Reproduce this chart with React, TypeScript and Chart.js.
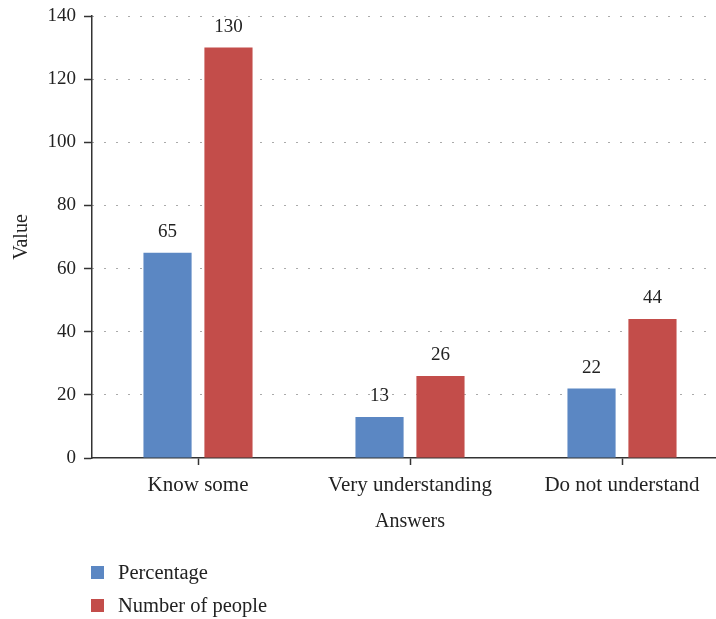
import React, { useEffect, useRef } from "react";
import { Chart, registerables } from "chart.js";

Chart.register(...registerables);

const categories = ["Know some", "Very understanding", "Do not understand"];
const percentage = [65, 13, 22];
const numberOfPeople = [130, 26, 44];
const seriesNames = ["Percentage", "Number of people"];
const seriesColors = ["#5b87c3", "#c34d4a"];
const yTicks = [0, 20, 40, 60, 80, 100, 120, 140];

const FONT = "'Liberation Serif', 'Times New Roman', serif";
const AXIS_COLOR = "#333333";

const valueLabels = {
  id: "valueLabels",
  afterDatasetsDraw(chart: any) {
    const ctx = chart.ctx;
    ctx.save();
    ctx.font = `19px ${FONT}`;
    ctx.fillStyle = "#222222";
    ctx.textAlign = "center";
    ctx.textBaseline = "alphabetic";
    chart.data.datasets.forEach((ds: any, i: number) => {
      const meta = chart.getDatasetMeta(i);
      meta.data.forEach((bar: any, j: number) => {
        ctx.fillText(String(ds.data[j]), bar.x, bar.y - 16);
      });
    });
    ctx.restore();
  },
};

export default function App() {
  const canvasRef = useRef<HTMLCanvasElement>(null);

  useEffect(() => {
    const canvas = canvasRef.current;
    if (!canvas) return;
    const chart = new Chart(canvas, {
      type: "bar",
      data: {
        labels: categories,
        datasets: [
          {
            label: seriesNames[0],
            data: percentage,
            backgroundColor: seriesColors[0],
            categoryPercentage: 0.575,
            barPercentage: 0.79,
          },
          {
            label: seriesNames[1],
            data: numberOfPeople,
            backgroundColor: seriesColors[1],
            categoryPercentage: 0.575,
            barPercentage: 0.79,
          },
        ],
      },
      options: {
        responsive: false,
        animation: false,
        layout: { padding: { top: 16, right: 0, bottom: 74, left: 0 } },
        plugins: {
          legend: { display: false },
          tooltip: { enabled: false },
        },
        scales: {
          x: {
            grid: {
              offset: false,
              drawOnChartArea: false,
              tickLength: 7,
              tickColor: AXIS_COLOR,
              tickWidth: 1.5,
            },
            border: { color: AXIS_COLOR, width: 1.5 },
            ticks: {
              color: "#222222",
              padding: 8,
              maxRotation: 0,
              autoSkip: false,
              font: { family: FONT, size: 21 },
            },
            title: {
              display: true,
              text: "Answers",
              color: "#222222",
              font: { family: FONT, size: 20 },
              padding: { top: 0, bottom: 11 },
            },
            afterFit: (s: any) => {
              s.height = 619 - 458 - 74;
              s.paddingLeft = 0;
              s.paddingRight = 0;
            },
          },
          y: {
            min: 0,
            max: 140,
            afterBuildTicks: (s: any) => {
              s.ticks = yTicks.map((v) => ({ value: v }));
            },
            grid: {
              color: (c: any) => (c.tick && c.tick.value === 0 ? "rgba(0,0,0,0)" : "#555555"),
              lineWidth: 1,
              tickLength: 8,
              tickColor: AXIS_COLOR,
              tickWidth: 1.5,
            },
            border: { color: AXIS_COLOR, width: 1.5, dash: [1, 11] },
            ticks: {
              color: "#222222",
              padding: 8,
              font: { family: FONT, size: 19 },
            },
            title: {
              display: true,
              text: "Value",
              color: "#222222",
              font: { family: FONT, size: 20 },
              padding: { top: 10, bottom: 0 },
            },
            afterFit: (s: any) => {
              s.width = 92;
              s.paddingTop = 0;
              s.paddingBottom = 0;
            },
          },
        },
      },
      plugins: [valueLabels],
    });
    return () => chart.destroy();
  }, []);

  const legendRow = (name: string, color: string, top: number) => (
    <div
      key={name}
      style={{
        position: "absolute",
        left: 91,
        top,
        height: 24,
        display: "flex",
        alignItems: "center",
        fontFamily: FONT,
        fontSize: 20.5,
        color: "#222222",
        whiteSpace: "nowrap",
      }}
    >
      <span style={{ width: 13, height: 13, background: color, marginRight: 14, display: "inline-block" }} />
      <span>{name}</span>
    </div>
  );

  return (
    <div
      style={{
        position: "fixed",
        left: 0,
        top: 0,
        width: 716,
        height: 619,
        overflow: "hidden",
        background: "#ffffff",
      }}
    >
      <canvas ref={canvasRef} width={728} height={619} style={{ display: "block" }} />
      {legendRow(seriesNames[0], seriesColors[0], 560)}
      {legendRow(seriesNames[1], seriesColors[1], 593)}
    </div>
  );
}
